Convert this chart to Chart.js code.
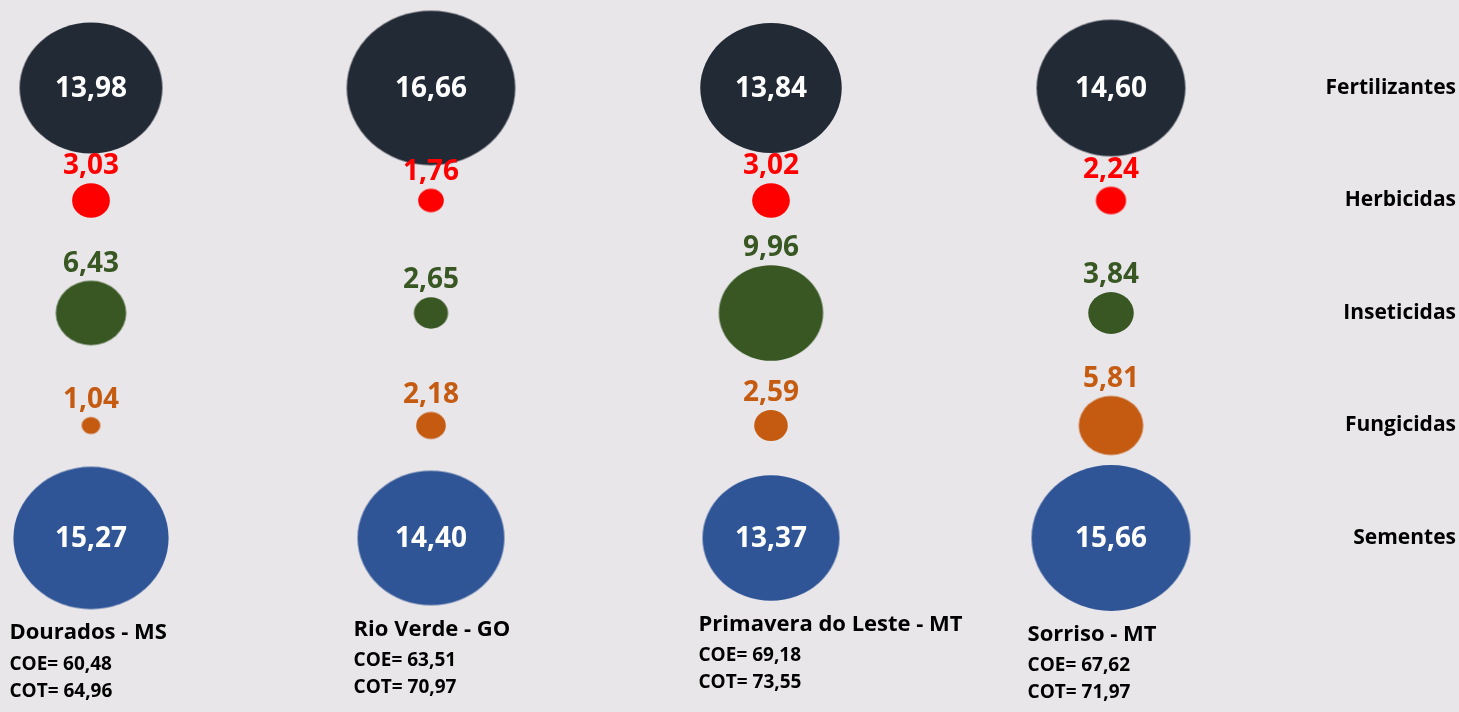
<!DOCTYPE html>
<html>
<head>
<meta charset="utf-8">
<script src="https://cdn.jsdelivr.net/npm/chart.js@4.4.1/dist/chart.umd.min.js"></script>
<style>
  html, body { margin: 0; padding: 0; background: #e8e6e9; }
  #wrap { width: 1459px; height: 712px; }
</style>
</head>
<body>
<div id="wrap"><canvas id="chart" width="1459" height="712"></canvas></div>
<script>
const locations = ['Dourados - MS', 'Rio Verde - GO', 'Primavera do Leste - MT', 'Sorriso - MT'];
const categories = ['Fertilizantes', 'Herbicidas', 'Inseticidas', 'Fungicidas', 'Sementes'];
const fertilizantes = [13.98, 16.66, 13.84, 14.60];
const herbicidas = [3.03, 1.76, 3.02, 2.24];
const inseticidas = [6.43, 2.65, 9.96, 3.84];
const fungicidas = [1.04, 2.18, 2.59, 5.81];
const sementes = [15.27, 14.40, 13.37, 15.66];
const coe = [60.48, 63.51, 69.18, 67.62];
const cot = [64.96, 70.97, 73.55, 71.97];

const colors = ['#222a35', '#ff0000', '#385723', '#c55a11', '#2f5597'];
const series = [fertilizantes, herbicidas, inseticidas, fungicidas, sementes];
const insideLabel = [true, false, false, false, true];

const FONT = '"Open Sans"';
const fmt = v => v.toFixed(2).replace('.', ',');
const radiusOf = v => 4.4 * v + 4;
const STRETCH = 1.09; // bubbles are slightly wider than tall

// ellipse images used as point style
const cache = {};
function ellipse(color, r) {
  const key = color + r.toFixed(2);
  if (cache[key]) return cache[key];
  const c = document.createElement('canvas');
  const w = Math.ceil(2 * r * STRETCH) + 2, h = Math.ceil(2 * r) + 2;
  c.width = w; c.height = h;
  const g = c.getContext('2d');
  g.fillStyle = color;
  g.beginPath();
  g.ellipse(w / 2, h / 2, r * STRETCH, r, 0, 0, Math.PI * 2);
  g.fill();
  cache[key] = c;
  return c;
}

const datasets = categories.map((cat, i) => ({
  label: cat,
  data: series[i].map((v, j) => ({ x: locations[j], y: cat, r: radiusOf(v), v: v })),
  backgroundColor: colors[i],
  borderWidth: 0,
  clip: false,
  pointStyle: ctx => ellipse(colors[i], ctx.raw ? ctx.raw.r : 1)
}));

const labelsPlugin = {
  id: 'labels',
  afterDatasetsDraw(chart) {
    const ctx = chart.ctx;
    ctx.save();
    chart.data.datasets.forEach((ds, i) => {
      const meta = chart.getDatasetMeta(i);
      meta.data.forEach((el, j) => {
        const r = ds.data[j].r;
        const txt = fmt(ds.data[j].v);
        ctx.font = 'bold 28px ' + FONT;
        ctx.textAlign = 'center';
        ctx.textBaseline = 'middle';
        if (insideLabel[i]) {
          ctx.fillStyle = '#ffffff';
          ctx.fillText(txt, el.x, el.y + 1);
        } else {
          ctx.fillStyle = colors[i];
          ctx.fillText(txt, el.x, el.y - r - 17);
        }
        // location names below the last row
        if (i === categories.length - 1) {
          const lx = el.x - r * STRETCH - 4;
          const ly = el.y + r + 24;
          ctx.textAlign = 'left';
          ctx.fillStyle = '#000000';
          ctx.font = 'bold 22px ' + FONT;
          ctx.fillText(locations[j], lx, ly);
          ctx.font = 'bold 19px ' + FONT;
          ctx.fillText('COE= ' + fmt(coe[j]), lx, ly + 31);
          ctx.fillText('COT= ' + fmt(cot[j]), lx, ly + 58);
        }
      });
    });
    ctx.restore();
  }
};

Chart.defaults.font.family = FONT;

const chart = new Chart(document.getElementById('chart'), {
  type: 'bubble',
  data: { datasets: datasets },
  options: {
    responsive: false,
    animation: false,
    layout: { padding: { left: 91, right: 3, top: 88, bottom: 174 } },
    plugins: {
      legend: { display: false },
      tooltip: { enabled: false }
    },
    scales: {
      x: {
        type: 'category',
        labels: locations,
        offset: false,
        display: false
      },
      y: {
        type: 'category',
        labels: categories,
        position: 'right',
        offset: false,
        grid: { display: false },
        border: { display: false },
        ticks: {
          crossAlign: 'far',
          color: '#000000',
          font: { size: 21, weight: 'bold' }
        },
        afterFit(scale) { scale.width = 345; }
      }
    }
  },
  plugins: [labelsPlugin]
});
</script>
</body>
</html>
